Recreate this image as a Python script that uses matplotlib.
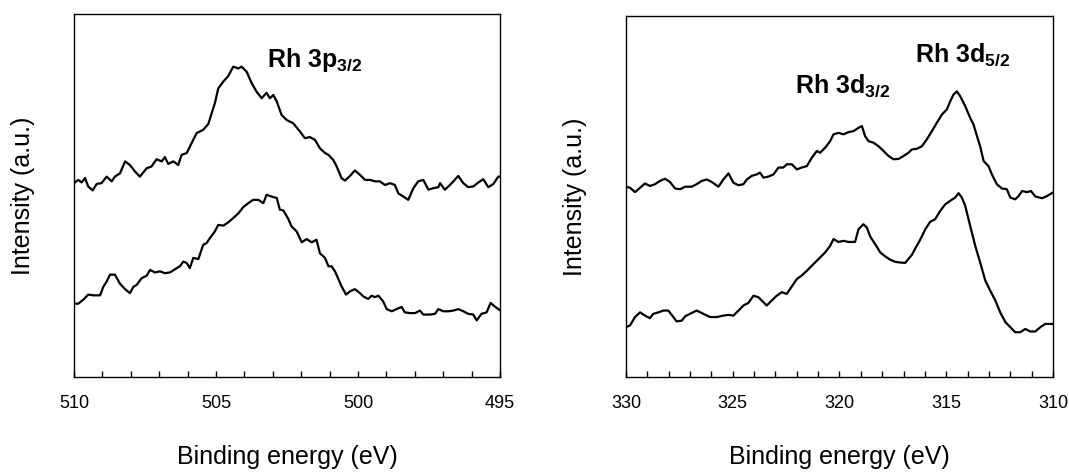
import matplotlib
matplotlib.use("Agg")
import matplotlib.pyplot as plt
from matplotlib.ticker import MultipleLocator

plt.rcParams['font.family'] = ['Liberation Sans', 'DejaVu Sans']
plt.rcParams['mathtext.fontset'] = 'custom'
plt.rcParams['mathtext.rm'] = 'Liberation Sans'
plt.rcParams['mathtext.bf'] = 'Liberation Sans:bold'

# Rh 3p region, upper spectrum
e_3p_a = [510.00, 509.85, 509.73, 509.61, 509.50, 509.34, 509.20, 509.03, 508.85, 508.67,
          508.56, 508.38, 508.20, 508.03, 507.85, 507.68, 507.44, 507.27, 507.09, 506.91,
          506.80, 506.68, 506.50, 506.33, 506.21, 506.03, 505.86, 505.68, 505.45, 505.27,
          505.15, 505.04, 504.92, 504.74, 504.57, 504.39, 504.21, 504.10, 503.92, 503.74,
          503.57, 503.39, 503.22, 503.10, 502.98, 502.86, 502.69, 502.51, 502.28, 502.04,
          501.87, 501.69, 501.51, 501.34, 501.16, 501.04, 500.87, 500.75, 500.58, 500.46,
          500.28, 500.11, 499.93, 499.75, 499.58, 499.40, 499.23, 499.05, 498.87, 498.70,
          498.58, 498.40, 498.23, 498.05, 497.88, 497.70, 497.52, 497.35, 497.17, 497.11,
          496.94, 496.76, 496.64, 496.47, 496.29, 496.12, 495.94, 495.76, 495.59, 495.41,
          495.23, 495.06, 495.00]
i_3p_a = [53.4, 54.3, 53.6, 54.8, 52.5, 51.4, 53.2, 53.4, 55.2, 53.9,
          55.2, 56.1, 59.4, 58.4, 56.6, 55.2, 57.5, 58.0, 60.0, 59.4,
          60.6, 58.7, 59.4, 58.4, 61.2, 61.7, 64.4, 67.2, 68.1, 69.7,
          72.7, 75.4, 79.5, 81.4, 82.9, 85.5, 85.0, 85.5, 84.1, 80.9,
          78.6, 76.8, 78.3, 76.8, 77.7, 75.9, 72.2, 70.8, 69.9, 67.6,
          65.8, 66.1, 65.3, 63.0, 61.7, 61.2, 59.8, 58.0, 54.8, 54.1,
          55.4, 56.9, 55.7, 54.3, 54.3, 53.9, 53.9, 52.9, 53.4, 52.9,
          50.6, 49.7, 48.8, 52.0, 53.9, 54.3, 51.6, 52.0, 52.3, 53.4,
          51.6, 52.9, 53.9, 55.4, 53.4, 52.3, 52.5, 53.6, 54.5, 52.3,
          53.2, 55.2, 55.2]

# Rh 3p region, lower spectrum
e_3p_b = [510.00, 509.85, 509.67, 509.50, 509.32, 509.08, 508.97, 508.85, 508.73, 508.56,
          508.38, 508.20, 508.03, 507.91, 507.79, 507.62, 507.44, 507.32, 507.15, 506.97,
          506.80, 506.62, 506.38, 506.27, 506.15, 506.03, 505.92, 505.80, 505.62, 505.45,
          505.33, 505.21, 505.04, 504.92, 504.74, 504.57, 504.39, 504.21, 504.04, 503.86,
          503.69, 503.51, 503.33, 503.22, 503.04, 502.86, 502.75, 502.63, 502.45, 502.34,
          502.16, 501.98, 501.81, 501.63, 501.46, 501.34, 501.16, 501.04, 500.93, 500.81,
          500.69, 500.58, 500.42, 500.28, 500.11, 499.93, 499.81, 499.64, 499.52, 499.40,
          499.28, 499.11, 498.99, 498.81, 498.64, 498.46, 498.35, 498.17, 497.99, 497.82,
          497.70, 497.46, 497.29, 497.17, 496.99, 496.82, 496.64, 496.47, 496.29, 496.12,
          495.94, 495.82, 495.65, 495.47, 495.33, 495.18, 495.02]
i_3p_b = [20.2, 20.2, 21.3, 22.7, 22.5, 22.5, 24.8, 26.3, 28.2, 28.2,
          25.7, 24.2, 23.1, 24.8, 25.4, 27.2, 27.9, 29.5, 28.8, 29.1,
          28.6, 28.8, 30.0, 30.5, 31.8, 31.4, 30.0, 32.8, 32.5, 36.4,
          36.9, 38.3, 40.1, 41.9, 41.7, 42.6, 43.8, 45.1, 46.8, 47.9,
          48.8, 48.8, 47.9, 50.2, 49.7, 49.3, 46.1, 45.9, 43.5, 41.5,
          40.1, 37.1, 38.0, 37.1, 37.8, 34.1, 32.8, 30.5, 30.5, 29.1,
          27.0, 25.0, 22.7, 23.6, 24.2, 23.1, 22.2, 21.5, 22.4, 22.0,
          22.4, 20.8, 18.7, 18.1, 18.7, 19.3, 17.8, 17.6, 17.6, 18.3,
          17.2, 17.2, 17.4, 18.7, 18.1, 18.1, 18.3, 18.7, 18.1, 17.4,
          17.2, 15.6, 17.4, 17.8, 20.4, 19.4, 18.5]

# Rh 3d region, upper spectrum
e_3d_a = [330.00, 329.81, 329.58, 329.34, 329.11, 328.88, 328.64, 328.41, 328.17, 327.94,
          327.70, 327.47, 327.23, 326.92, 326.69, 326.45, 326.22, 325.98, 325.67, 325.44,
          325.20, 324.97, 324.73, 324.50, 324.34, 324.11, 323.88, 323.72, 323.56, 323.33,
          323.09, 322.86, 322.63, 322.47, 322.23, 322.00, 321.77, 321.53, 321.30, 321.06,
          320.91, 320.67, 320.44, 320.28, 320.05, 319.81, 319.58, 319.34, 319.11, 318.95,
          318.80, 318.64, 318.41, 318.17, 317.94, 317.70, 317.47, 317.23, 317.00, 316.77,
          316.61, 316.38, 316.14, 315.91, 315.67, 315.44, 315.20, 314.97, 314.81, 314.66,
          314.50, 314.34, 314.11, 313.88, 313.72, 313.56, 313.41, 313.25, 313.02, 312.86,
          312.63, 312.39, 312.16, 312.00, 311.77, 311.61, 311.45, 311.22, 311.03, 310.83,
          310.52, 310.28, 310.00]
i_3d_a = [52.7, 52.4, 51.2, 52.4, 53.6, 52.9, 53.4, 54.3, 54.9, 54.0,
          52.2, 52.0, 52.7, 52.7, 53.4, 54.3, 54.7, 54.0, 52.7, 54.7,
          56.4, 53.8, 53.1, 53.4, 54.7, 55.7, 56.1, 56.6, 55.2, 55.5,
          56.1, 58.0, 58.0, 58.9, 58.9, 57.5, 58.0, 58.4, 60.7, 62.6,
          62.1, 63.5, 65.3, 67.2, 67.6, 67.2, 67.8, 68.1, 69.0, 69.5,
          66.7, 65.3, 64.9, 63.9, 62.6, 61.2, 60.3, 60.4, 61.2, 62.1,
          63.0, 63.2, 63.9, 65.8, 68.1, 70.4, 72.7, 74.1, 76.4, 78.2,
          79.1, 77.7, 75.0, 71.8, 69.9, 66.7, 63.9, 59.8, 58.4, 56.1,
          53.4, 52.2, 52.0, 49.7, 49.2, 50.1, 51.5, 51.2, 51.5, 50.0,
          49.5, 50.1, 51.1]

# Rh 3d region, lower spectrum
e_3d_b = [330.00, 329.81, 329.58, 329.34, 329.11, 328.88, 328.72, 328.48, 328.25, 328.02,
          327.78, 327.63, 327.39, 327.23, 327.00, 326.69, 326.38, 326.06, 325.75, 325.44,
          325.20, 324.97, 324.73, 324.50, 324.27, 324.03, 323.80, 323.56, 323.41, 323.17,
          322.94, 322.70, 322.47, 322.23, 322.00, 321.77, 321.53, 321.30, 321.06, 320.91,
          320.67, 320.44, 320.28, 320.05, 319.81, 319.58, 319.27, 319.11, 318.88, 318.72,
          318.56, 318.33, 318.09, 317.86, 317.63, 317.39, 317.16, 316.92, 316.77, 316.61,
          316.45, 316.22, 315.98, 315.75, 315.52, 315.28, 315.05, 314.81, 314.58, 314.42,
          314.27, 314.11, 313.88, 313.64, 313.41, 313.17, 312.94, 312.70, 312.47, 312.23,
          312.00, 311.77, 311.53, 311.30, 311.06, 310.83, 310.59, 310.36, 310.00]
i_3d_b = [13.8, 14.3, 16.6, 17.9, 17.0, 16.3, 17.5, 17.9, 18.4, 18.4,
          16.6, 15.4, 15.6, 16.8, 17.5, 18.4, 17.5, 16.6, 16.6, 17.0,
          17.2, 17.0, 18.4, 19.8, 20.5, 22.5, 22.1, 20.7, 19.8, 21.2,
          22.5, 23.5, 23.0, 25.1, 27.1, 28.1, 29.4, 30.8, 32.2, 33.1,
          34.5, 36.3, 38.2, 37.4, 37.7, 37.4, 37.4, 40.9, 42.3, 41.4,
          38.9, 36.8, 34.5, 33.4, 32.5, 31.9, 31.7, 31.6, 32.7, 33.8,
          35.6, 38.0, 40.9, 43.0, 43.7, 46.0, 47.8, 48.8, 49.7, 50.9,
          49.7, 47.4, 41.9, 36.3, 31.7, 26.7, 23.9, 21.2, 17.9, 15.2,
          13.8, 12.4, 12.4, 13.3, 12.6, 12.6, 13.8, 14.7, 14.7]

fig = plt.figure(figsize=(10.69, 4.72), dpi=100)
ax1 = fig.add_axes([0.0692, 0.2013, 0.3985, 0.769])
ax2 = fig.add_axes([0.5856, 0.2013, 0.3994, 0.765])

for ax, xmax, xmin in [(ax1, 510, 495), (ax2, 330, 310)]:
    ax.set_xlim(xmax, xmin)
    ax.set_ylim(0, 100)
    ax.set_yticks([])
    ax.xaxis.set_major_locator(MultipleLocator(5))
    ax.xaxis.set_minor_locator(MultipleLocator(1))
    ax.tick_params(axis='x', which='both', direction='in', length=4.5, width=1,
                   labelsize=13, pad=13)
    for s in ax.spines.values():
        s.set_linewidth(1.0)
    ax.set_xlabel('Binding energy (eV)', fontsize=18, labelpad=24)
    ax.set_ylabel('Intensity (a.u.)', fontsize=18, labelpad=28)

ax1.plot(e_3p_a, i_3p_a, color='black', lw=1.6)
ax1.plot(e_3p_b, i_3p_b, color='black', lw=1.6)
ax2.plot(e_3d_a, i_3d_a, color='black', lw=1.6)
ax2.plot(e_3d_b, i_3d_b, color='black', lw=1.6)

ax1.text(503.2, 85.4, r'Rh 3p$_\mathbf{3/2}$', fontsize=18, fontweight='bold')
ax2.text(322.08, 78.7, r'Rh 3d$_\mathbf{3/2}$', fontsize=18, fontweight='bold')
ax2.text(316.46, 87.3, r'Rh 3d$_\mathbf{5/2}$', fontsize=18, fontweight='bold')

fig.savefig('out.png', dpi=100)
